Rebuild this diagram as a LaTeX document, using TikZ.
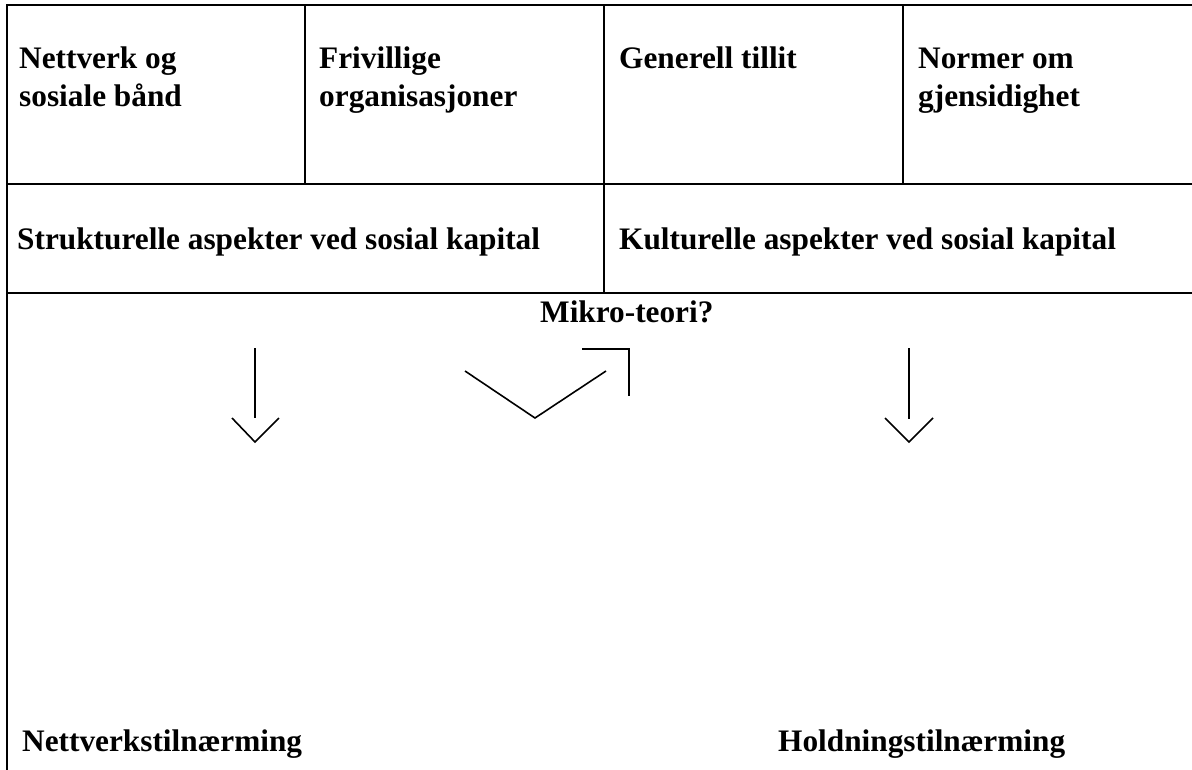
\documentclass[tikz,border=0pt]{standalone}
\usepackage{fontspec}
\setmainfont{Liberation Serif}
\begin{document}
\begin{tikzpicture}[x=1pt,y=-1pt,
  grid/.style={line width=2.4pt, line cap=rect},
  thin/.style={line width=1.6pt},
  lbl/.style={anchor=base west, inner sep=0pt, align=left,
    font=\bfseries\fontsize{31.3}{38}\selectfont}]
\useasboundingbox (0,0) rectangle (1192,769);
% table lines
\draw[grid] (7,769) -- (7,5) -- (1195,5);
\draw[grid] (7,184) -- (1195,184);
\draw[grid] (7,293) -- (1195,293);
\draw[grid] (305,5) -- (305,184);
\draw[grid] (604,5) -- (604,293);
\draw[grid] (903,5) -- (903,184);
% texts
\node[lbl] (n1) at (19,106) {Nettverk og\\sosiale bånd};
\node[lbl] (n2) at (319,106) {Frivillige\\organisasjoner};
\node[lbl] (n3) at (619,68) {Generell tillit};
\node[lbl] (n4) at (918,106) {Normer om\\gjensidighet};
\node[lbl] (s1) at (17,249) {Strukturelle aspekter ved sosial kapital};
\node[lbl] (s2) at (619,249) {Kulturelle aspekter ved sosial kapital};
\node[lbl] (mk) at (540,322) {Mikro-teori?};
\node[lbl] (b1) at (22,751) {Nettverkstilnærming};
\node[lbl] (b2) at (778,751) {Holdningstilnærming};
% arrows
\draw[thin] (255,348) -- (255,418);
\draw[thin] (232,418) -- (255,442) -- (279,418);
\draw[thin] (465,371) -- (535,418) -- (606,371);
\draw[thin] (582,349) -- (629,349) -- (629,396);
\draw[thin] (909,348) -- (909,419);
\draw[thin] (885,418) -- (909,442) -- (933,418);
\end{tikzpicture}
\end{document}
